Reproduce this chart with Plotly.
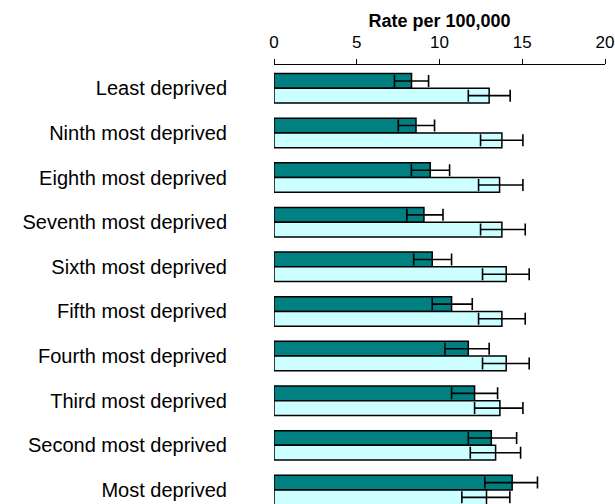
import plotly.graph_objects as go

labels = ["Least deprived", "Ninth most deprived", "Eighth most deprived",
          "Seventh most deprived", "Sixth most deprived", "Fifth most deprived",
          "Fourth most deprived", "Third most deprived", "Second most deprived",
          "Most deprived"]

dark_rate = [8.31, 8.58, 9.44, 9.06, 9.56, 10.73, 11.74, 12.12, 13.13, 14.39]
dark_low = [7.28, 7.51, 8.30, 8.03, 8.44, 9.56, 10.33, 10.73, 11.74, 12.74]
dark_high = [9.34, 9.70, 10.61, 10.21, 10.73, 11.98, 13.00, 13.51, 14.66, 15.92]

light_rate = [13.00, 13.77, 13.63, 13.77, 14.03, 13.77, 14.03, 13.65, 13.39, 12.84]
light_low = [11.74, 12.48, 12.36, 12.48, 12.60, 12.36, 12.60, 12.12, 11.86, 11.35]
light_high = [14.27, 15.04, 15.04, 15.18, 15.42, 15.18, 15.42, 15.04, 14.90, 14.25]

x_ticks = [0, 5, 10, 15, 20]
font_family = "Liberation Sans, Arial, sans-serif"


def err(vals, lo, hi):
    return dict(type="data", symmetric=False,
                array=[h - v for v, h in zip(vals, hi)],
                arrayminus=[v - l for v, l in zip(vals, lo)],
                color="black", thickness=1.6, width=6)


fig = go.Figure()
fig.add_trace(go.Bar(
    y=labels, x=dark_rate, orientation="h", name="Group 1",
    marker=dict(color="#008080", line=dict(color="black", width=1.5)),
    error_x=err(dark_rate, dark_low, dark_high),
))
fig.add_trace(go.Bar(
    y=labels, x=light_rate, orientation="h", name="Group 2",
    marker=dict(color="#CCFFFF", line=dict(color="black", width=1.5)),
    error_x=err(light_rate, light_low, light_high),
))

fig.update_layout(
    width=615, height=504,
    margin=dict(l=274, r=10, t=65, b=0),
    paper_bgcolor="white", plot_bgcolor="white",
    barmode="group", bargap=0.34, bargroupgap=0,
    showlegend=False,
    font=dict(family=font_family, color="black"),
    xaxis=dict(
        side="top", range=[0, 20], tickvals=x_ticks,
        ticks="outside", ticklen=5, tickcolor="black", tickwidth=1,
        showline=True, linecolor="black", linewidth=1,
        showgrid=False, zeroline=False,
        tickfont=dict(size=17), ticklabelstandoff=4,
        title=dict(text="<b>Rate per 100,000</b>", font=dict(size=18), standoff=0),
    ),
    yaxis=dict(
        type="category", categoryarray=labels,
        range=[9.314, -0.522],
        showline=False, showgrid=False, zeroline=False,
        ticks="", tickfont=dict(size=20), ticklabelstandoff=46,
    ),
)

fig.write_html("out.html")
